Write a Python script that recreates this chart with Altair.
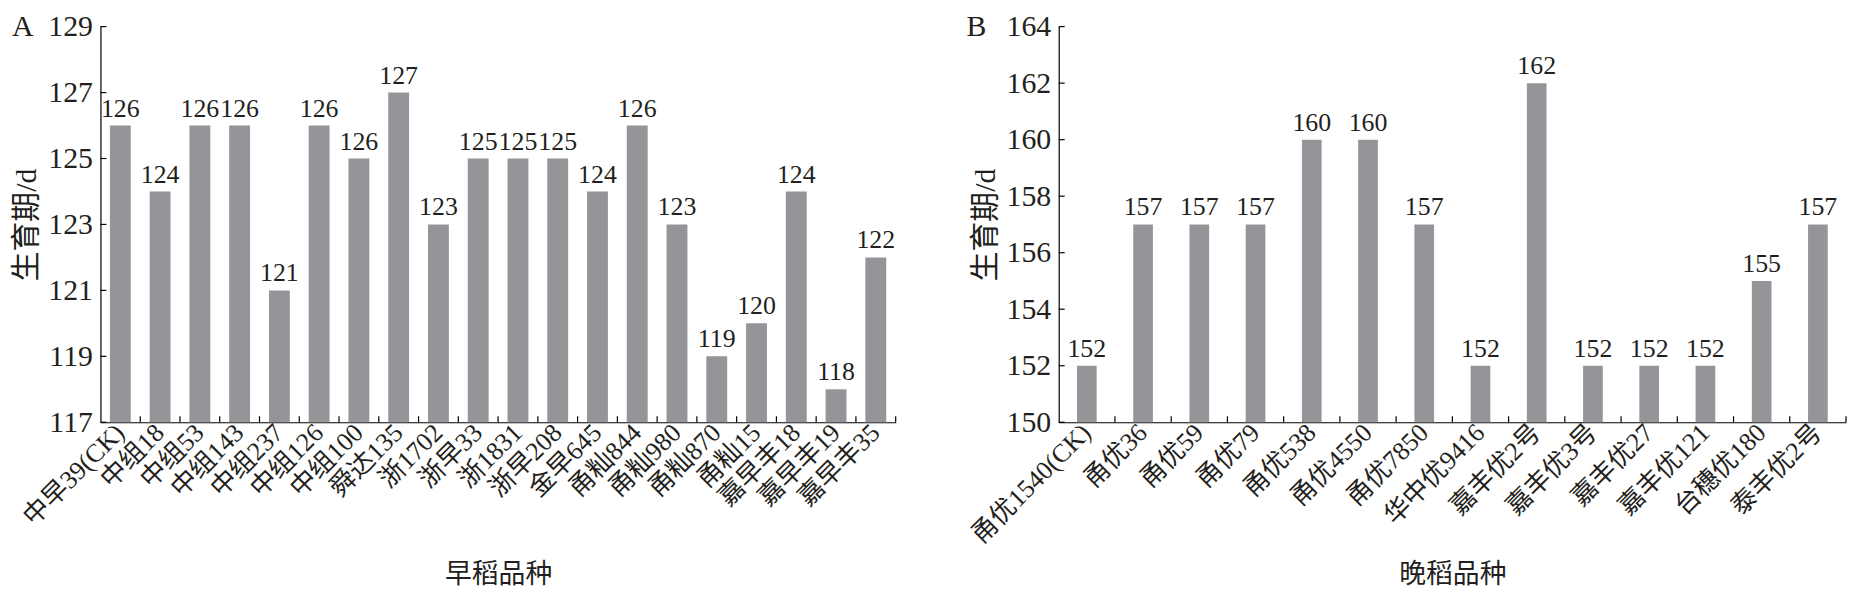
import altair as alt
import pandas as pd

# ---------------- data ----------------
early_varieties = ["中早39(CK)", "中组18", "中组53", "中组143", "中组237", "中组126", "中组100",
                   "舜达135", "浙1702", "浙早33", "浙1831", "浙早208", "金早645", "甬籼844",
                   "甬籼980", "甬籼870", "甬籼15", "嘉早丰18", "嘉早丰19", "嘉早丰35"]
early_days = [126, 124, 126, 126, 121, 126, 125, 127, 123, 125, 125, 125, 124, 126, 123, 119, 120, 124, 118, 122]
early_labels = ["126", "124", "126", "126", "121", "126", "126", "127", "123", "125", "125", "125",
                "124", "126", "123", "119", "120", "124", "118", "122"]
early_ticks = [117, 119, 121, 123, 125, 127, 129]

late_varieties = ["甬优1540(CK)", "甬优36", "甬优59", "甬优79", "甬优538", "甬优4550", "甬优7850",
                  "华中优9416", "嘉丰优2号", "嘉丰优3号", "嘉丰优27", "嘉丰优121", "台穗优180", "泰丰优2号"]
late_days = [152, 157, 157, 157, 160, 160, 157, 152, 162, 152, 152, 152, 155, 157]
late_labels = ["152", "157", "157", "157", "160", "160", "157", "152", "162", "152", "152", "152", "155", "157"]
late_ticks = [150, 152, 154, 156, 158, 160, 162, 164]

FONT = "Liberation Serif, Noto Sans CJK SC"
TEXT = "#231f20"
BAR = "#939598"
H = 398


def panel(cats, days, labels, ticks, x_title, letter, width, pad_inner):
    df = pd.DataFrame({"variety": cats, "days": days, "label": labels})
    tdf = pd.DataFrame({"days": ticks})
    xscale = alt.Scale(paddingInner=pad_inner, paddingOuter=pad_inner / 2)
    yscale = alt.Scale(domain=[ticks[0], ticks[-1]], nice=False, zero=False)
    xaxis = alt.Axis(title=x_title, labelAngle=-45, labelAlign="right", labelBaseline="middle",
                     labelFont=FONT, labelFontSize=26, labelColor=TEXT, labelPadding=6,
                     labelOverlap=False, labelLimit=400, ticks=False, domainColor="#000",
                     domainWidth=1.2, titleFont=FONT, titleFontSize=27, titleFontWeight="normal",
                     titleColor=TEXT, titleY=140, titleBaseline="top")
    yaxis = alt.Axis(title="生育期/d", values=ticks, ticks=False, grid=False, labelFont=FONT,
                     labelFontSize=30, labelColor=TEXT, labelPadding=8, domainColor="#000",
                     domainWidth=1.2, titleFont=FONT, titleFontSize=30, titleFontWeight="normal",
                     titleColor=TEXT, titlePadding=6)
    x_enc = alt.X("variety:N", sort=cats, scale=xscale, axis=xaxis)
    y_enc = alt.Y("days:Q", scale=yscale, axis=yaxis)

    bars = alt.Chart(df).mark_bar(color=BAR).encode(x=x_enc, y=y_enc, y2=alt.datum(ticks[0]))
    texts = alt.Chart(df).mark_text(baseline="alphabetic", dy=-9, font=FONT, fontSize=26,
                                    color=TEXT).encode(x=x_enc, y=y_enc, text="label:N")
    half_gap = width / len(cats) * pad_inner / 2
    xticks = alt.Chart(df).mark_rule(color="#000", strokeWidth=1.2, xOffset=half_gap).encode(
        x=alt.X("variety:N", sort=cats, scale=xscale, axis=xaxis, bandPosition=1),
        y=alt.value(H), y2=alt.value(H - 6))
    yticks = alt.Chart(tdf).mark_rule(color="#000", strokeWidth=1.2).encode(
        y=y_enc, x=alt.value(0), x2=alt.value(6))

    return alt.layer(bars, texts, xticks, yticks).properties(
        width=width, height=H,
        title=alt.TitleParams(text=letter, anchor="start", frame="bounds", font=FONT, fontSize=30,
                              fontWeight="normal", color=TEXT, dy=30, offset=0))


left = panel(early_varieties, early_days, early_labels, early_ticks, "早稻品种", "A", 800, 0.475)
right = panel(late_varieties, late_days, late_labels, late_ticks, "晚稻品种", "B", 792, 0.65)

chart = alt.hconcat(left, right, spacing=70).properties(
    padding={"left": 4, "top": 2, "right": 0, "bottom": 0}
).configure_view(stroke=None)

chart.save("out.html", embed_options={"renderer": "svg", "actions": False})
